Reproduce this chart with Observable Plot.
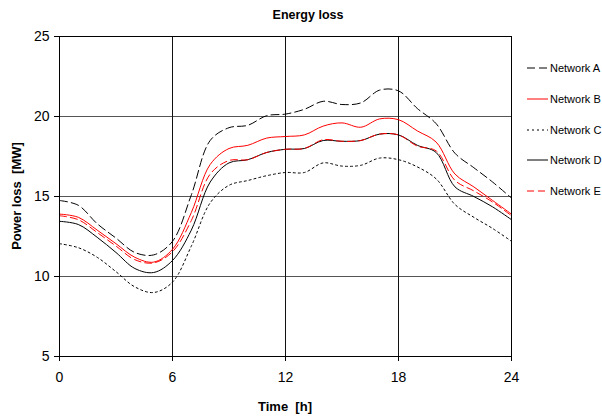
<!DOCTYPE html>
<html>
<head>
<meta charset="utf-8">
<script src="https://cdn.jsdelivr.net/npm/d3@7"></script>
<script src="https://cdn.jsdelivr.net/npm/@observablehq/plot@0.6"></script>
<style>
  html, body { margin: 0; padding: 0; background: #fff; }
  #chart svg { display: block; }
</style>
</head>
<body>
<div id="chart"></div>
<script>
// ---- data ----
const hours = [0,1,2,3,4,5,6,7,8,9,10,11,12,13,14,15,16,17,18,19,20,21,22,23,24];
const networkA = [14.75,14.45,13.3,12.4,11.5,11.35,12.2,15.1,18.5,19.3,19.45,20.05,20.15,20.45,20.95,20.75,20.85,21.65,21.6,20.5,19.55,17.7,16.8,15.9,14.9];
const networkB = [13.9,13.7,12.9,12.05,11.2,10.9,11.7,14.0,17.0,18.0,18.2,18.65,18.75,18.85,19.4,19.6,19.33,19.85,19.8,19.1,18.4,16.4,15.6,14.75,13.9];
const networkC = [12.05,11.8,11.2,10.3,9.35,9.0,9.65,11.9,14.6,15.7,16.0,16.3,16.5,16.5,17.1,16.9,16.95,17.4,17.3,16.85,16.1,14.5,13.7,13.0,12.2];
const networkD = [13.45,13.25,12.45,11.5,10.5,10.25,11.0,12.9,15.9,17.1,17.3,17.75,17.95,18.0,18.5,18.45,18.5,18.9,18.85,18.2,17.75,15.6,15.0,14.35,13.55];
const networkE = [13.8,13.55,12.75,11.9,11.05,10.85,11.55,13.5,16.4,17.25,17.3,17.75,17.95,18.0,18.55,18.45,18.5,18.9,18.85,18.15,17.85,16.0,15.35,14.65,13.8];
const seriesNames = ["Network A","Network B","Network C","Network D","Network E"];
const seriesValues = [networkA, networkB, networkC, networkD, networkE];
const xTicks = [0,6,12,18,24];
const yTicks = [5,10,15,20,25];
const titleText = "Energy loss";
const xLabel = "Time  [h]";
const yLabel = "Power loss  [MW]";

// ---- styles ----
const styles = {
  "Network A": {stroke: "#000", dash: "8,4", width: 1},
  "Network B": {stroke: "#ff0000", dash: null, width: 1},
  "Network C": {stroke: "#000", dash: "2,3", width: 1},
  "Network D": {stroke: "#000", dash: null, width: 1},
  "Network E": {stroke: "#ff0000", dash: "7,4", width: 1}
};
const drawOrder = ["Network A","Network C","Network D","Network E","Network B"];

const rows = (name) => {
  const vals = seriesValues[seriesNames.indexOf(name)];
  return hours.map((h, i) => ({hour: h, value: vals[i], series: name}));
};

const W = 602, H = 416;
const mL = 59, mR = 91, mT = 36, mB = 60;

const plot = Plot.plot({
  width: W,
  height: H,
  marginLeft: mL,
  marginRight: mR,
  marginTop: mT,
  marginBottom: mB,
  style: {fontFamily: "'Liberation Sans', Arial, sans-serif", fontSize: "14px", background: "#fff", color: "#000"},
  x: {domain: [0, 24]},
  y: {domain: [5, 25]},
  marks: [
    Plot.gridY({ticks: [10,15,20], stroke: "#555", strokeOpacity: 1, strokeWidth: 1}),
    Plot.gridX({ticks: [6,12,18], stroke: "#111", strokeOpacity: 1, strokeWidth: 1}),
    ...drawOrder.map(name => Plot.line(rows(name), {
      x: "hour", y: "value",
      stroke: styles[name].stroke,
      strokeWidth: styles[name].width,
      strokeDasharray: styles[name].dash,
      curve: "catmull-rom"
    })),
    Plot.frame({stroke: "#000", strokeWidth: 1}),
    Plot.axisX({ticks: xTicks, tickSize: 5, tickPadding: 11, label: null, fontSize: 14, tickFormat: d => String(d)}),
    Plot.axisY({ticks: yTicks, tickSize: 5, tickPadding: 5, label: null, fontSize: 14, tickFormat: d => String(d)})
  ]
});

document.getElementById("chart").appendChild(plot);

const svg = d3.select(plot);
const fam = "'Liberation Sans', Arial, sans-serif";

// title
svg.append("text")
  .attr("x", 308).attr("y", 19)
  .attr("text-anchor", "middle")
  .attr("font-family", fam).attr("font-size", 12.5).attr("font-weight", "bold")
  .attr("fill", "#000")
  .text(titleText);

// x axis title
svg.append("text")
  .attr("x", 285).attr("y", 411)
  .attr("text-anchor", "middle")
  .attr("font-family", fam).attr("font-size", 13).attr("font-weight", "bold")
  .attr("fill", "#000")
  .style("white-space", "pre")
  .text(xLabel);

// y axis title
svg.append("text")
  .attr("transform", "translate(21,196) rotate(-90)")
  .attr("text-anchor", "middle")
  .attr("font-family", fam).attr("font-size", 13).attr("font-weight", "bold")
  .attr("fill", "#000")
  .style("white-space", "pre")
  .text(yLabel);

// legend
const legendY = [68, 99, 130, 160, 191];
const lg = svg.append("g").attr("text-anchor", "start");
seriesNames.forEach((name, i) => {
  const s = styles[name];
  lg.append("line")
    .attr("x1", 527).attr("x2", 548)
    .attr("y1", legendY[i]).attr("y2", legendY[i])
    .attr("stroke", s.stroke).attr("stroke-width", s.width)
    .attr("stroke-dasharray", s.dash);
  lg.append("text")
    .attr("x", 550).attr("y", legendY[i])
    .attr("dy", "0.35em")
    .attr("text-anchor", "start")
    .attr("font-family", fam).attr("font-size", 11)
    .attr("fill", "#000")
    .text(name);
});
</script>
</body>
</html>
